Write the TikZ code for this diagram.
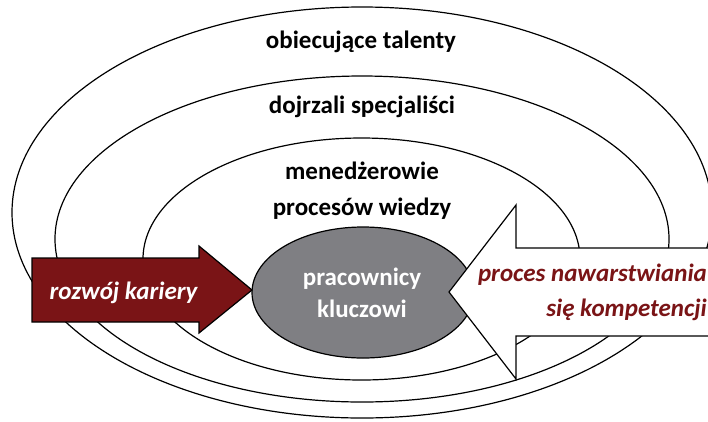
\documentclass[tikz,border=0pt]{standalone}
\usepackage{fontspec}
\setmainfont{Carlito}
\usetikzlibrary{shapes.geometric}
\definecolor{kred}{RGB}{122,20,22}
\definecolor{kgrey}{RGB}{127,127,131}
\begin{document}
\begin{tikzpicture}[x=1pt,y=-1pt,
  ring/.style={ellipse, draw=black, line width=1.2pt, inner sep=0pt},
  lbl/.style={font=\fontsize{25}{36}\selectfont\bfseries, align=center, text=black, inner sep=0pt},
  arrowshape/.style={draw=black, line width=1.2pt, line join=miter}]
\useasboundingbox (0,0) rectangle (708,421);
\clip (0,0) rectangle (708,421);
% rings
\node[ring, minimum width=700pt, minimum height=411pt] (outer) at (362,212.5) {};
\node[ring, minimum width=614pt, minimum height=326pt] (middle) at (362,239) {};
\node[ring, minimum width=437pt, minimum height=242pt] (inner) at (361.5,259) {};
% ring labels
\node[lbl] (t1) at (361,42) {obiecujące talenty};
\node[lbl] (t2) at (362,107) {dojrzali specjaliści};
\node[lbl] (t3) at (362,191) {menedżerowie\\procesów wiedzy};
% core
\node[ellipse, fill=kgrey, draw=black, line width=1.2pt, inner sep=0pt,
      minimum width=222pt, minimum height=131pt] (core) at (363,292.5) {};
\node[lbl, text=white, font=\fontsize{25}{32}\selectfont\bfseries] (coretext) at (362,293) {pracownicy\\kluczowi};
% career arrow
\path[arrowshape, fill=kred] (32,258) -- (199,258) -- (199,246) -- (252,290) -- (199,333) -- (199,322) -- (32,322) -- cycle;
\node[lbl, text=white, font=\fontsize{25}{32}\selectfont\bfseries\itshape] (career) at (123.5,293) {rozwój kariery};
% competence arrow
\path[arrowshape, fill=white] (730,248) -- (516,248) -- (516,205) -- (449,292) -- (516,379) -- (516,336) -- (730,336) -- cycle;
\node[lbl, text=kred, align=right, anchor=east, font=\fontsize{25}{35}\selectfont\bfseries\itshape] (comp) at (707,292.5) {proces nawarstwiania\\się kompetencji};
\end{tikzpicture}
\end{document}
